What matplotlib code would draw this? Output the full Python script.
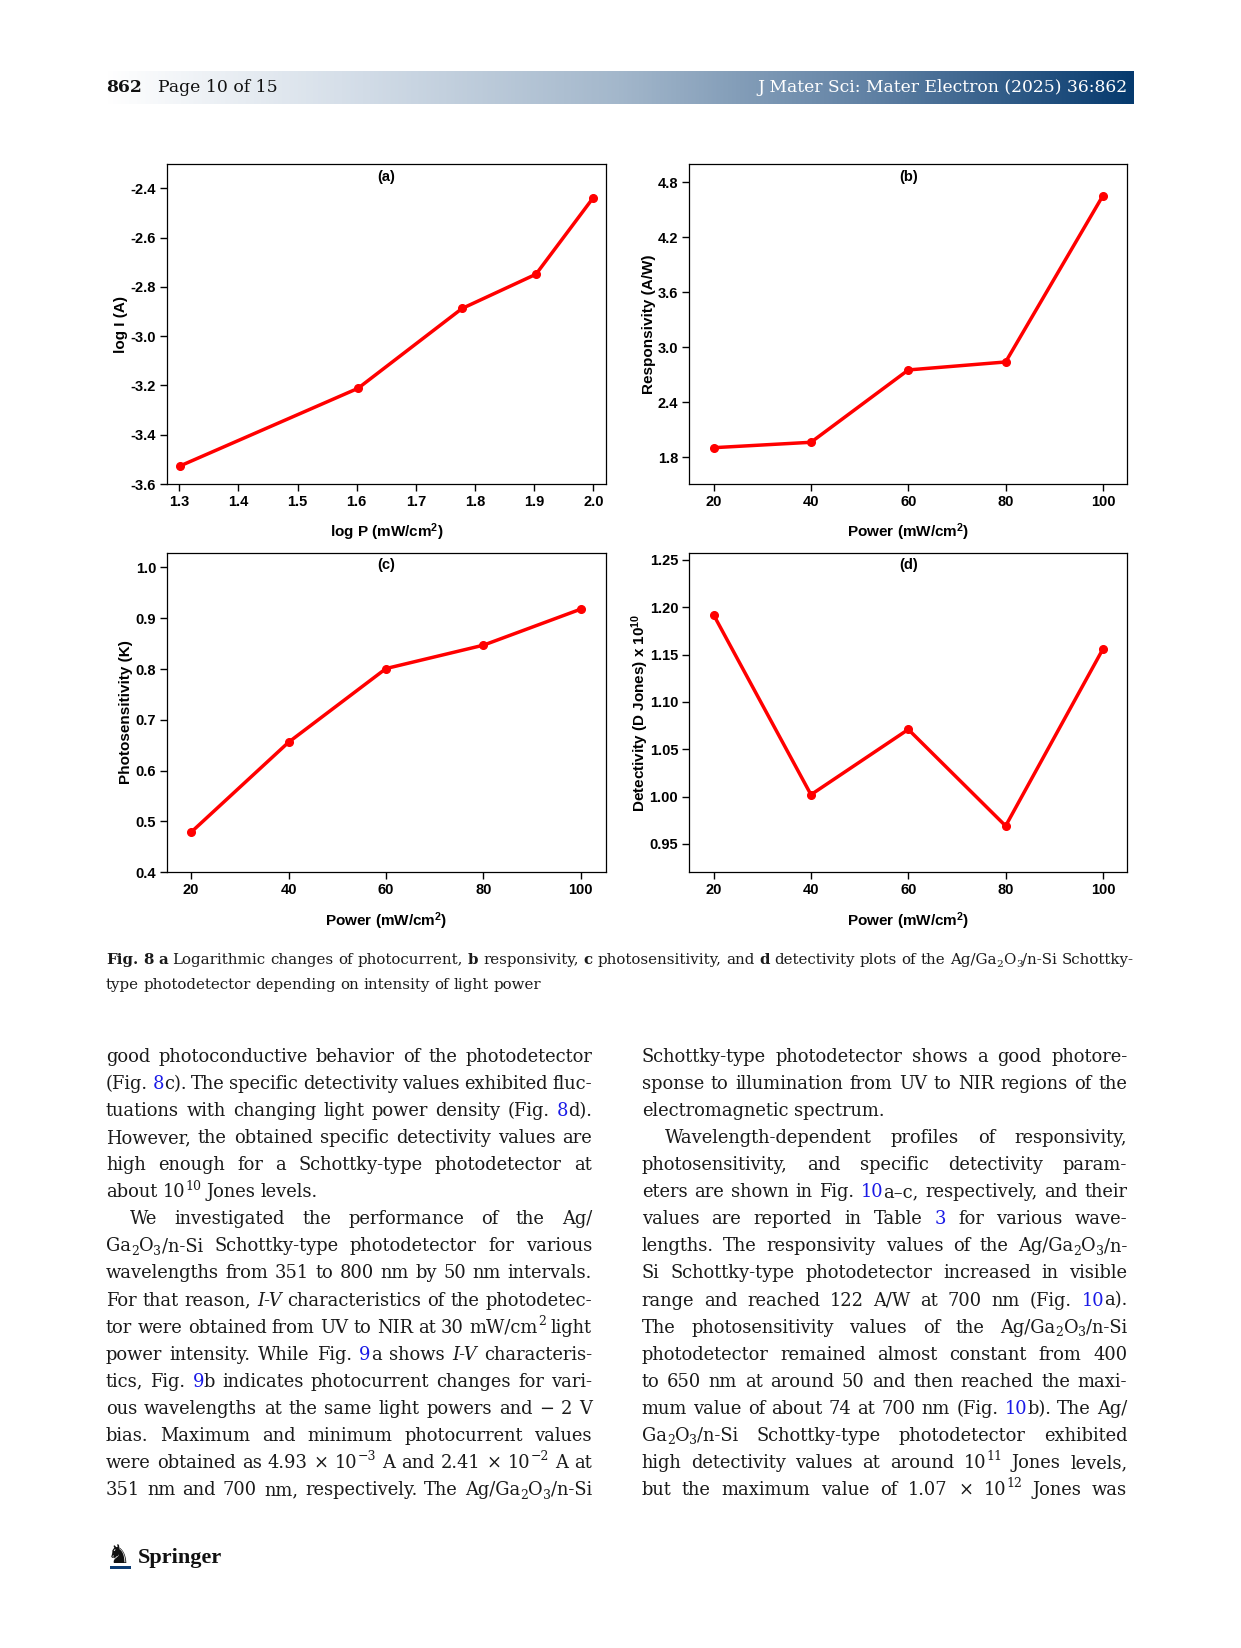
import re
import numpy as np
import matplotlib
matplotlib.use('Agg')
import matplotlib.pyplot as plt
from matplotlib.colors import LinearSegmentedColormap
from matplotlib.patches import Rectangle
from matplotlib.ticker import FormatStrFormatter

W, H = 1241, 1648

# values
power = [20, 40, 60, 80, 100]
log_p = [1.301, 1.602, 1.778, 1.903, 2.0]
log_i = [-3.527, -3.212, -2.888, -2.749, -2.438]
responsivity = [1.905, 1.964, 2.753, 2.84, 4.655]
photosens = [0.479, 0.656, 0.801, 0.847, 0.918]
detectivity = [1.192, 1.002, 1.071, 0.969, 1.156]

logp_ticks = [1.3, 1.4, 1.5, 1.6, 1.7, 1.8, 1.9, 2.0]
logi_ticks = [-3.6, -3.4, -3.2, -3.0, -2.8, -2.6, -2.4]
power_ticks = [20, 40, 60, 80, 100]
resp_ticks = [1.8, 2.4, 3.0, 3.6, 4.2, 4.8]
sens_ticks = [0.4, 0.5, 0.6, 0.7, 0.8, 0.9, 1.0]
det_ticks = [0.95, 1.00, 1.05, 1.10, 1.15, 1.20, 1.25]

plt.rcParams['font.family'] = 'Liberation Sans'
plt.rcParams['font.weight'] = 'bold'
plt.rcParams['axes.unicode_minus'] = False
plt.rcParams['mathtext.fontset'] = 'custom'
plt.rcParams['mathtext.rm'] = 'Liberation Sans:bold'
plt.rcParams['mathtext.it'] = 'Liberation Sans:bold'
plt.rcParams['mathtext.bf'] = 'Liberation Sans:bold'

fig = plt.figure(figsize=(W / 100, H / 100), dpi=100)
fig.patch.set_facecolor('white')


def px_axes(l, t, r, b):
    return fig.add_axes([l / W, 1 - b / H, (r - l) / W, (b - t) / H])


power_lbl = 'Power (mW/cm$^2$)'
panels = [
    dict(box=(167.3, 164.3, 605.7, 484.0), x=log_p, y=log_i, xlim=(1.2797, 2.0209), ylim=(-3.6, -2.303),
         xt=logp_ticks, yt=logi_ticks, xf='%.1f', yf='%.1f', xl='log P (mW/cm$^2$)', yl='log I (A)',
         tag='(a)', ylx=-0.089),
    dict(box=(689.3, 164.3, 1127.3, 484.0), x=power, y=responsivity, xlim=(15, 105), ylim=(1.509, 4.996),
         xt=power_ticks, yt=resp_ticks, xf='%d', yf='%.1f', xl=power_lbl, yl='Responsivity (A/W)',
         tag='(b)', ylx=-0.075),
    dict(box=(167.3, 552.7, 605.7, 872.3), x=power, y=photosens, xlim=(15.1, 105.1), ylim=(0.4, 1.029),
         xt=power_ticks, yt=sens_ticks, xf='%d', yf='%.1f', xl=power_lbl, yl='Photosensitivity (K)',
         tag='(c)', ylx=-0.078),
    dict(box=(689.3, 552.7, 1127.3, 872.3), x=power, y=detectivity, xlim=(15, 105), ylim=(0.920, 1.2577),
         xt=power_ticks, yt=det_ticks, xf='%d', yf='%.2f', xl=power_lbl,
         yl='Detectivity (D Jones) x 10$^{10}$', tag='(d)', ylx=-0.087),
]

for p in panels:
    ax = px_axes(*p['box'])
    ax.plot(p['x'], p['y'], color='#ff0000', lw=2.5, marker='o', ms=5.5, mec='#ff0000', mfc='#ff0000')
    ax.set_xlim(*p['xlim'])
    ax.set_ylim(*p['ylim'])
    ax.set_xticks(p['xt'])
    ax.set_yticks(p['yt'])
    ax.xaxis.set_major_formatter(FormatStrFormatter(p['xf']))
    ax.yaxis.set_major_formatter(FormatStrFormatter(p['yf']))
    ax.tick_params(direction='out', length=5, width=1, labelsize=10.5, pad=3, top=False, right=False)
    for s in ax.spines.values():
        s.set_linewidth(0.9)
    ax.set_xlabel(p['xl'], fontsize=11, fontweight='bold')
    ax.set_ylabel(p['yl'], fontsize=11, fontweight='bold')
    ax.xaxis.set_label_coords(0.5, -0.118)
    ax.yaxis.set_label_coords(p['ylx'], 0.5)
    ax.text(0.5, 0.961, p['tag'], transform=ax.transAxes, ha='center', va='center',
            fontsize=10.5, fontweight='bold')

serif = 'DejaVu Serif'

# header bar
cmap = LinearSegmentedColormap.from_list('hdr', ['#ffffff', '#d2dce7', '#a3b7cb', '#5f80a3', '#063a6e'])
axh = px_axes(105, 71, 1134, 104)
axh.imshow(np.linspace(0, 1, 512)[None, :], aspect='auto', cmap=cmap, extent=[0, 1, 0, 1])
axh.axis('off')
fig.text(106 / W, 1 - 92 / H, '862', fontsize=12.3, family=serif, fontweight='bold',
         color='#111111', va='baseline')
fig.text(158 / W, 1 - 92 / H, 'Page 10 of 15', fontsize=12.4, family=serif,
         fontweight='normal', color='#111111', va='baseline')
fig.text(1128 / W, 1 - 92 / H, 'J Mater Sci: Mater Electron (2025) 36:862', fontsize=12.3,
         family=serif, fontweight='normal', color='white', va='baseline', ha='right')

renderer = fig.canvas.get_renderer()
pat = re.compile(r'(\^\{[^}]*\}|_\{[^}]*\}|\*[^*]+\*|#[^#]+#|![^!]+!)')
link = '#1a1ae6'
_probe = fig.text(0, 0, '')


def measure(s, size, family):
    # width of a run of plain text, used to butt coloured pieces together
    if not s:
        return 0.0
    _probe.set_text(s)
    _probe.set_fontsize(size)
    _probe.set_family(family)
    _probe.set_fontweight('normal')
    w = _probe.get_window_extent(renderer).width
    _probe.set_text('')
    return w


def put_line(text, x0, x1, y, size, family, justify, indent=0.0, color='#1a1a1a'):
    placed = []
    for word in text.split(' '):
        pieces, wsum = [], 0.0
        run, run_start = '', 0.0
        for part in re.split(pat, word):
            if not part:
                continue
            kw = dict(fontsize=size, family=family, fontweight='normal', fontstyle='normal', color=color)
            dy, s, small = 0.0, part, False
            if part.startswith('^{'):
                s = part[2:-1]; kw['fontsize'] = size * 0.7; dy = size * 0.42; small = True
            elif part.startswith('_{'):
                s = part[2:-1]; kw['fontsize'] = size * 0.7; dy = -size * 0.2; small = True
            elif part[0] == '*':
                s = part[1:-1]; kw['fontstyle'] = 'italic'
            elif part[0] == '#':
                s = part[1:-1]; kw['color'] = link
            elif part[0] == '!':
                s = part[1:-1]; kw['fontweight'] = 'bold'
            t = fig.text(0, 0, s, va='baseline', ha='left', **kw)
            w = t.get_window_extent(renderer).width
            if small:
                pieces.append((t, wsum, dy * 100 / 72))
                wsum += w
                run, run_start = '', wsum
            else:
                off = run_start + measure(run, size, family)
                pieces.append((t, off, 0.0))
                if run:
                    run += s
                    wsum = run_start + measure(run, size, family)
                else:
                    run = s
                    wsum = run_start + w
        placed.append((pieces, wsum))
    total = sum(w for _, w in placed)
    if justify and len(placed) > 1:
        gap = (x1 - x0 - indent - total) / (len(placed) - 1)
    else:
        gap = size * 100 / 72 * 0.3
    x = x0 + indent
    for pieces, wsum in placed:
        for t, off, dy in pieces:
            t.set_position(((x + off) / W, 1 - (y - dy) / H))
        x += wsum + gap


# caption
cap_lines = [
    ('!Fig.! !8! !a! Logarithmic changes of photocurrent, !b! responsivity, !c! photosensitivity, and !d! '
     'detectivity plots of the Ag/Ga_{2}O_{3}/n-Si Schottky-', True),
    ('type photodetector depending on intensity of light power', False),
]
for i, (ln, j) in enumerate(cap_lines):
    put_line(ln, 106, 1134, 964 + i * 25, 10.8, serif, j)

left_lines = [
    ('good photoconductive behavior of the photodetector', True, False),
    ('(Fig. #8#c). The specific detectivity values exhibited fluc-', True, False),
    ('tuations with changing light power density (Fig. #8#d).', True, False),
    ('However, the obtained specific detectivity values are', True, False),
    ('high enough for a Schottky-type photodetector at', True, False),
    ('about 10^{10} Jones levels.', False, False),
    ('We investigated the performance of the Ag/', True, True),
    ('Ga_{2}O_{3}/n-Si Schottky-type photodetector for various', True, False),
    ('wavelengths from 351 to 800 nm by 50 nm intervals.', True, False),
    ('For that reason, *I-V* characteristics of the photodetec-', True, False),
    ('tor were obtained from UV to NIR at 30 mW/cm^{2} light', True, False),
    ('power intensity. While Fig. #9#a shows *I-V* characteris-', True, False),
    ('tics, Fig. #9#b indicates photocurrent changes for vari-', True, False),
    ('ous wavelengths at the same light powers and \u2212 2 V', True, False),
    ('bias. Maximum and minimum photocurrent values', True, False),
    ('were obtained as 4.93 \u00d7 10^{\u22123} A and 2.41 \u00d7 10^{\u22122} A at', True, False),
    ('351 nm and 700 nm, respectively. The Ag/Ga_{2}O_{3}/n-Si', True, False),
]
right_lines = [
    ('Schottky-type photodetector shows a good photore-', True, False),
    ('sponse to illumination from UV to NIR regions of the', True, False),
    ('electromagnetic spectrum.', False, False),
    ('Wavelength-dependent profiles of responsivity,', True, True),
    ('photosensitivity, and specific detectivity param-', True, False),
    ('eters are shown in Fig. #10#a\u2013c, respectively, and their', True, False),
    ('values are reported in Table #3# for various wave-', True, False),
    ('lengths. The responsivity values of the Ag/Ga_{2}O_{3}/n-', True, False),
    ('Si Schottky-type photodetector increased in visible', True, False),
    ('range and reached 122 A/W at 700 nm (Fig. #10#a).', True, False),
    ('The photosensitivity values of the Ag/Ga_{2}O_{3}/n-Si', True, False),
    ('photodetector remained almost constant from 400', True, False),
    ('to 650 nm at around 50 and then reached the maxi-', True, False),
    ('mum value of about 74 at 700 nm (Fig. #10#b). The Ag/', True, False),
    ('Ga_{2}O_{3}/n-Si Schottky-type photodetector exhibited', True, False),
    ('high detectivity values at around 10^{11} Jones levels,', True, False),
    ('but the maximum value of 1.07 \u00d7 10^{12} Jones was', True, False),
]
for i, (ln, j, ind) in enumerate(left_lines):
    put_line(ln, 106, 592, 1062 + i * 27.06, 12.9, serif, j, 24 if ind else 0)
for i, (ln, j, ind) in enumerate(right_lines):
    put_line(ln, 641.7, 1127.3, 1062 + i * 27.06, 12.9, serif, j, 23 if ind else 0)

# springer logo
fig.text(107 / W, 1 - 1563 / H, '\u265e', fontsize=19, family='DejaVu Sans', color='#111111', va='baseline')
fig.add_artist(Rectangle((110 / W, 1 - 1569 / H), 21 / W, 3 / H, transform=fig.transFigure,
                         color='#0b3b73', lw=0))
fig.text(138 / W, 1 - 1563 / H, 'Springer', fontsize=16, family='Liberation Serif', fontweight='bold',
         color='#111111', va='baseline')

fig.savefig('out.png', dpi=100)
